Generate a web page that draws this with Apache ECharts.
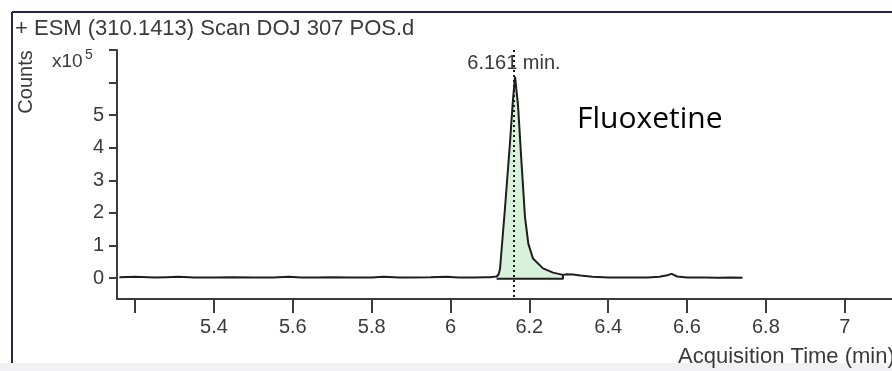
<!DOCTYPE html>
<html><head><meta charset="utf-8">
<script src="https://cdn.jsdelivr.net/npm/echarts@6/dist/echarts.min.js"></script>
<style>html,body{margin:0;padding:0;background:#fff}#c{width:892px;height:371px}</style>
</head><body><div id="c"></div>
<script>
// ---- text ----
const titleText = '+ ESM (310.1413) Scan DOJ 307 POS.d';
const compoundName = 'Fluoxetine';
const xAxisName = 'Acquisition Time (min)';
const yAxisName = 'Counts';
const yScaleBase = 'x10';
const yScaleExp = '5';
// ---- peak annotation ----
const peakTime = 6.161;
const peakLabel = '6.161 min.';
const integStart = 6.117;
const integEnd = 6.2854;
// ---- trace (time in min, counts in x10^5) ----
const times = [5.16,5.20,5.25,5.28,5.31,5.35,5.40,5.45,5.50,5.55,5.59,5.62,5.66,5.70,5.75,5.80,5.83,5.87,5.90,5.95,5.99,6.02,6.06,6.09,6.10,6.11,
  6.117,6.122,6.1256,6.1383,6.151,6.158,6.1637,6.1713,6.1806,6.189,6.1974,6.2093,6.2347,6.2601,6.2854,
  6.295,6.31,6.33,6.36,6.40,6.45,6.50,6.53,6.55,6.561,6.575,6.60,6.64,6.68,6.71,6.741];
const counts = [0.03,0.04,0.02,0.03,0.04,0.02,0.02,0.03,0.02,0.02,0.04,0.02,0.02,0.03,0.02,0.02,0.04,0.02,0.02,0.03,0.04,0.02,0.02,0.03,0.03,0.04,
  0.05,0.12,0.28,2.16,4.17,5.4,6.18,5.3,3.46,1.87,1.06,0.6,0.3,0.17,0.1,
  0.12,0.11,0.08,0.04,0.02,0.02,0.02,0.04,0.09,0.13,0.05,0.02,0.02,0.01,0.02,0.01];
// ---- axes ----
const xTicks = [5.2,5.4,5.6,5.8,6.0,6.2,6.4,6.6,6.8,7.0];
const xLabels = [5.4,5.6,5.8,6.0,6.2,6.4,6.6,6.8,7.0];
const yTicks = [0,1,2,3,4,5,6,7];
const yLabels = [0,1,2,3,4,5];
const xMin = 5.154, xMax = 7.12, yMin = -0.64, yMax = 7;

const trace = times.map((t,i)=>[t,counts[i]]);
const peakFill = trace.filter(p=>p[0]>=integStart-1e-9 && p[0]<=integEnd+1e-9);
const endVal = peakFill[peakFill.length-1][1];
const integLine = [[integStart,-0.02],[integEnd,-0.02],[integEnd,endVal+0.03]];

const axisCol = '#3c3c3c';
const txtCol = '#3a3a3a';
const font = '"Liberation Sans", Arial, sans-serif';

const chart = echarts.init(document.getElementById('c'), null, {renderer:'canvas'});
chart.setOption({
  animation:false,
  backgroundColor:'#ffffff',
  grid:{left:117, top:50, right:0, bottom:72, containLabel:false},
  xAxis:{type:'value', min:xMin, max:xMax,
    axisLine:{show:true, onZero:false, lineStyle:{color:axisCol, width:2}},
    axisTick:{show:true, customValues:xTicks, length:14, lineStyle:{color:axisCol, width:2}},
    axisLabel:{customValues:xLabels, margin:18, color:txtCol, fontSize:20, fontFamily:font,
      formatter:v=>Math.abs(v-Math.round(v))<1e-6 ? String(Math.round(v)) : v.toFixed(1)},
    splitLine:{show:false}},
  yAxis:{type:'value', min:yMin, max:yMax,
    axisLine:{show:true, onZero:false, lineStyle:{color:axisCol, width:2}},
    axisTick:{show:true, customValues:yTicks, length:8, lineStyle:{color:axisCol, width:2}},
    axisLabel:{customValues:yLabels, margin:13, color:txtCol, fontSize:20, fontFamily:font},
    splitLine:{show:false}},
  series:[
    {type:'line', data:peakFill, symbol:'none', lineStyle:{width:0}, areaStyle:{color:'#d7f1da', opacity:1, origin:0}, z:1, silent:true},
    {type:'line', data:integLine, symbol:'none', lineStyle:{color:'#1e1e1e', width:2}, z:3, silent:true},
    {type:'line', data:trace, symbol:'none', lineStyle:{color:'#1e1e1e', width:2}, z:4, silent:true,
      markLine:{symbol:'none', silent:true, animation:false,
        lineStyle:{color:'#1a1a1a', width:2, type:[2,3]},
        label:{show:false},
        data:[[{coord:[peakTime, yMax]},{coord:[peakTime, yMin+0.01]}]]},
      markPoint:{symbol:'circle', symbolSize:0, silent:true, animation:false,
        label:{show:true, position:'inside', formatter:peakLabel, color:txtCol, fontSize:20, fontFamily:font},
        data:[{coord:[peakTime, 6.6]}]}
    }
  ],
  graphic:[
    {type:'rect', shape:{x:0,y:363,width:892,height:8}, style:{fill:'#f1f1f3'}, z:-1},
    {type:'line', shape:{x1:12,y1:12,x2:892,y2:12}, style:{stroke:'#25254a', lineWidth:2}},
    {type:'line', shape:{x1:12,y1:12,x2:12,y2:363}, style:{stroke:'#25254a', lineWidth:2}},
    {type:'text', style:{x:15, y:29, text:titleText, verticalAlign:'middle', fill:txtCol, font:'22px '+font}},
    {type:'text', rotation:Math.PI/2, x:26, y:82, style:{text:yAxisName, align:'center', verticalAlign:'middle', fill:txtCol, font:'20px '+font}},
    {type:'text', style:{x:52, y:62, text:yScaleBase, verticalAlign:'middle', fill:txtCol, font:'19px '+font}},
    {type:'text', style:{x:85, y:55, text:yScaleExp, verticalAlign:'middle', fill:txtCol, font:'14px '+font}},
    {type:'text', style:{x:577, y:119, text:compoundName, verticalAlign:'middle', fill:'#000', font:'30px "Open Sans", sans-serif'}},
    {type:'text', style:{x:678, y:357, text:xAxisName, verticalAlign:'middle', fill:txtCol, font:'22px '+font}}
  ]
});
</script></body></html>
